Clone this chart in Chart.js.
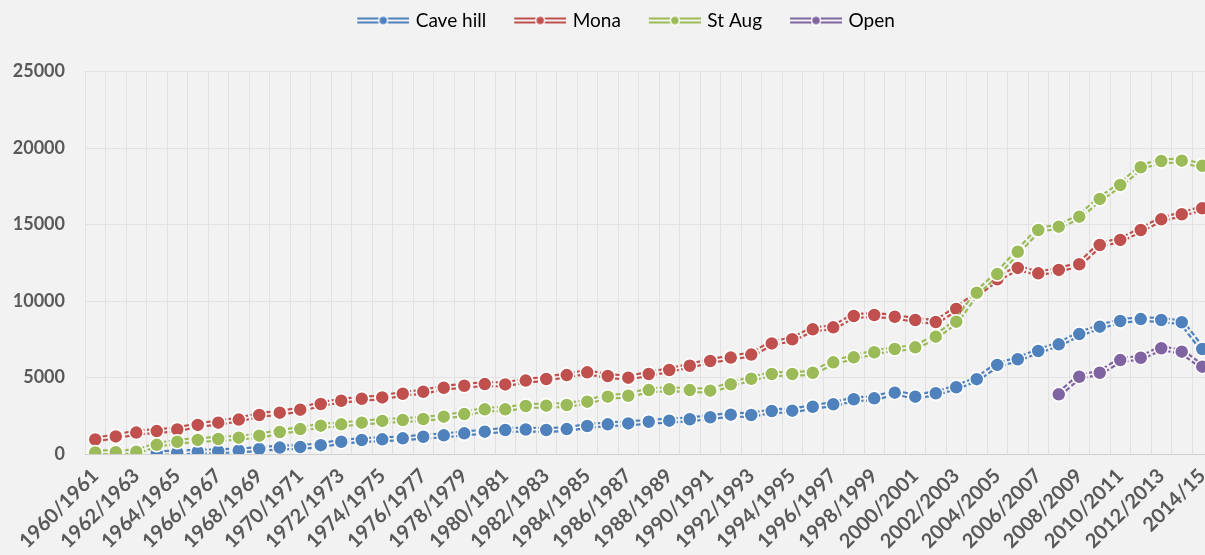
<!DOCTYPE html>
<html>
<head>
<meta charset="utf-8">
<script src="https://cdn.jsdelivr.net/npm/chart.js@4.4.1/dist/chart.umd.min.js"></script>
<style>
  html, body { margin: 0; padding: 0; background: #f2f2f2; overflow: hidden; }
  #enrolment { display: block; }
</style>
</head>
<body>
<canvas id="enrolment" width="1250" height="555"></canvas>
<script>
const seasons = [
  "1960/1961", "1961/1962", "1962/1963", "1963/1964", "1964/1965", "1965/1966", "1966/1967",
  "1967/1968", "1968/1969", "1969/1970", "1970/1971", "1971/1972", "1972/1973", "1973/1974",
  "1974/1975", "1975/1976", "1976/1977", "1977/1978", "1978/1979", "1979/1980", "1980/1981",
  "1981/1982", "1982/1983", "1983/1984", "1984/1985", "1985/1986", "1986/1987", "1987/1988",
  "1988/1989", "1989/1990", "1990/1991", "1991/1992", "1992/1993", "1993/1994", "1994/1995",
  "1995/1996", "1996/1997", "1997/1998", "1998/1999", "1999/2000", "2000/2001", "2001/2002",
  "2002/2003", "2003/2004", "2004/2005", "2005/2006", "2006/2007", "2007/2008", "2008/2009",
  "2009/2010", "2010/2011", "2011/2012", "2012/2013", "2013/2014", "2014/15"
];

const caveHill = [
  null, null, null, 50, 100, 150, 180, 230, 330, 420, 460, 580, 800, 915, 960, 1025, 1130,
  1220, 1350, 1460, 1570, 1600, 1570, 1630, 1830, 1940, 2000, 2110, 2180, 2270, 2400, 2570,
  2550, 2810, 2830, 3090, 3250, 3580, 3640, 4010, 3750, 3970, 4360, 4890, 5820, 6190, 6730,
  7170, 7840, 8320, 8690, 8820, 8760, 8610, 6860
];

const mona = [
  950, 1150, 1400, 1500, 1600, 1900, 2050, 2250, 2550, 2700, 2900, 3270, 3480, 3610, 3700,
  3940, 4070, 4330, 4460, 4570, 4550, 4800, 4900, 5160, 5340, 5100, 4990, 5230, 5490, 5770,
  6080, 6300, 6500, 7230, 7500, 8150, 8280, 9020, 9085, 8970, 8760, 8630, 9480, 10450, 11420,
  12160, 11810, 12030, 12400, 13660, 13990, 14640, 15340, 15670, 16060
];

const stAug = [
  100, 120, 150, 600, 800, 920, 980, 1070, 1200, 1440, 1630, 1850, 1940, 2050, 2160, 2220,
  2290, 2440, 2610, 2920, 2920, 3140, 3160, 3200, 3420, 3750, 3810, 4180, 4230, 4180, 4140,
  4560, 4920, 5230, 5230, 5310, 5990, 6320, 6650, 6860, 6970, 7670, 8650, 10540, 11760, 13220,
  14640, 14860, 15510, 16670, 17580, 18740, 19150, 19170, 18840
];

const openCampus = [
  null, null, null, null, null, null, null, null, null, null, null, null, null, null, null,
  null, null, null, null, null, null, null, null, null, null, null, null, null, null, null,
  null, null, null, null, null, null, null, null, null, null, null, null, null, null, null,
  null, null, 3900, 5050, 5310, 6140, 6290, 6910, 6690, 5710
];

const valueTicks = [0, 5000, 10000, 15000, 20000, 25000];

const series = [
  { label: "Cave hill", data: caveHill, color: "#4f81bd" },
  { label: "Mona", data: mona, color: "#c0504d" },
  { label: "St Aug", data: stAug, color: "#9bbb59" },
  { label: "Open", data: openCampus, color: "#8064a2" }
];

const PAGE_BG = "#f2f2f2";
const TEXT = "#595959";
const GRID = "#e2e2e2";

// legend swatch: a double rule with a dot in the middle; the blank strip on the
// left gives the gap between legend entries
const SWATCH_LEAD = 18;
const SWATCH_W = 52;
function swatch(color) {
  const c = document.createElement("canvas");
  c.width = SWATCH_LEAD + SWATCH_W + 3;
  c.height = 14;
  const g = c.getContext("2d");
  const x0 = c.width - SWATCH_W;
  g.fillStyle = color;
  g.fillRect(x0, 4, SWATCH_W, 2);
  g.fillRect(x0, 8, SWATCH_W, 2);
  g.beginPath();
  g.arc(x0 + SWATCH_W / 2, 7, 4.5, 0, Math.PI * 2);
  g.fillStyle = color;
  g.fill();
  g.lineWidth = 1.5;
  g.strokeStyle = "#ffffff";
  g.stroke();
  return c;
}

// each series is drawn as a wide dashed coloured stroke, a thin stroke in the
// page colour down its middle (double rule), then the markers on top
const datasets = [];
series.forEach((s, i) => {
  const base = (series.length - i) * 3;
  datasets.push({
    label: s.label, data: s.data, borderColor: s.color, borderWidth: 6,
    borderDash: [5, 2.5], pointRadius: 0, tension: 0, order: base + 2
  });
  datasets.push({
    label: s.label, data: s.data, borderColor: PAGE_BG, borderWidth: 1.6,
    pointRadius: 0, tension: 0, order: base + 1
  });
  datasets.push({
    label: s.label, data: s.data, showLine: false, order: base,
    pointRadius: 7, pointBackgroundColor: s.color,
    pointBorderColor: "#ffffff", pointBorderWidth: 1.5
  });
});

Chart.defaults.font.family = "Lato, 'Open Sans', sans-serif";
Chart.defaults.color = TEXT;

new Chart(document.getElementById("enrolment"), {
  type: "line",
  data: { labels: seasons, datasets },
  options: {
    responsive: false,
    animation: false,
    events: [],
    layout: { padding: { top: 1, left: 0, right: 16, bottom: 0 } },
    plugins: {
      tooltip: { enabled: false },
      legend: {
        position: "top",
        labels: {
          usePointStyle: true,
          pointStyleWidth: SWATCH_LEAD + 49,
          padding: 10,
          color: TEXT,
          font: { size: 19 },
          generateLabels: () => series.map((s, i) => ({
            text: s.label,
            pointStyle: swatch(s.color),
            fillStyle: s.color,
            strokeStyle: s.color,
            lineWidth: 0,
            hidden: false,
            datasetIndex: i * 3 + 2
          }))
        }
      },
      // empty title box used as a spacer between the legend and the plot
      title: {
        display: true, text: "", weight: 500, padding: 0,
        font: { size: 31.5, lineHeight: 1 }
      }
    },
    scales: {
      x: {
        offset: true,
        grid: { offset: true, color: GRID, drawTicks: false },
        border: { display: true, color: "#d0d0d0" },
        ticks: {
          autoSkip: false,
          minRotation: 45,
          maxRotation: 45,
          padding: 10,
          color: TEXT,
          font: { size: 20, weight: "bold" },
          callback: (v, i) => (i % 2 === 0 ? seasons[i] : "")
        },
        afterFit: (scale) => { scale.height = 101; }
      },
      y: {
        min: valueTicks[0],
        max: valueTicks[valueTicks.length - 1],
        grid: { color: GRID, drawTicks: false },
        border: { display: false },
        ticks: {
          padding: 20,
          color: TEXT,
          font: { size: 18, weight: "bold" },
          callback: (v) => String(v)
        },
        afterBuildTicks: (scale) => { scale.ticks = valueTicks.map((v) => ({ value: v })); },
        afterFit: (scale) => { scale.width = 85; }
      },
      // blank strip on the right of the plot, keeps the legend centred on the page
      edge: {
        position: "right",
        grid: { display: false },
        border: { display: false },
        ticks: { display: false },
        afterFit: (scale) => { scale.width = 21.5; }
      }
    }
  }
});
</script>
</body>
</html>
